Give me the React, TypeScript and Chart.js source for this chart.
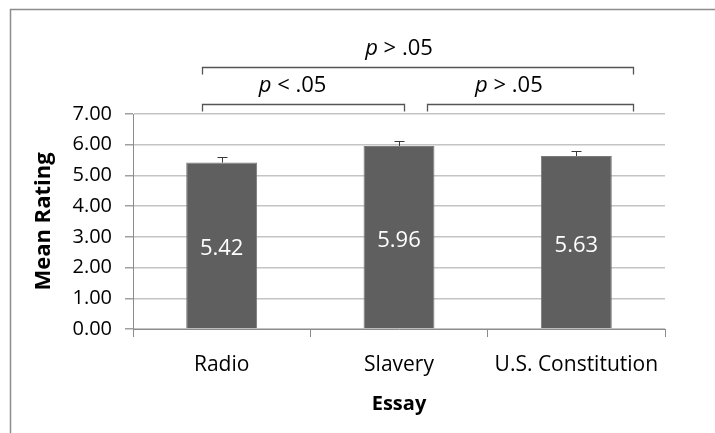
import React, { useEffect, useRef } from "react";
import { Chart, registerables } from "chart.js";

Chart.register(...registerables);

const categories = ["Radio", "Slavery", "U.S. Constitution"];
const means = [5.42, 5.96, 5.63];
const errors = [0.18, 0.17, 0.17];
const yTicks = [0, 1, 2, 3, 4, 5, 6, 7];
// significance brackets: start/end and label position in category-index units
const bracketLabels = ["> .05", "< .05", "> .05"];
const bracketStarts = [-0.11, -0.11, 1.16];
const bracketEnds = [2.32, 1.03, 2.32];
const bracketTextAt = [1.0, 0.4, 1.62];
const bracketLevels = [2, 1, 1];

const FONT = "'Open Sans', sans-serif";

export default function App() {
  const ref = useRef<HTMLCanvasElement | null>(null);

  useEffect(() => {
    document.body.style.margin = "0";
    const canvas = ref.current;
    if (!canvas) return;

    const framePlugin = {
      id: "frame",
      beforeDraw(chart: any) {
        const ctx = chart.ctx;
        ctx.save();
        ctx.strokeStyle = "#8c8c8c";
        ctx.lineWidth = 1.5;
        ctx.beginPath();
        ctx.moveTo(10.5, chart.height + 5);
        ctx.lineTo(10.5, 9.5);
        ctx.lineTo(chart.width + 5, 9.5);
        ctx.stroke();
        ctx.restore();
      },
    };

    const extrasPlugin = {
      id: "extras",
      afterDatasetsDraw(chart: any) {
        const ctx = chart.ctx;
        const x = chart.scales.x;
        const y = chart.scales.y;
        const meta = chart.getDatasetMeta(0);
        ctx.save();
        // error bars
        ctx.strokeStyle = "#3a3a3a";
        ctx.lineWidth = 1;
        meta.data.forEach((bar: any, i: number) => {
          const cx = Math.round(bar.x) + 0.5;
          const top = Math.round(y.getPixelForValue(means[i] + errors[i])) + 0.5;
          const base = y.getPixelForValue(means[i]);
          ctx.beginPath();
          ctx.moveTo(cx, base);
          ctx.lineTo(cx, top);
          ctx.moveTo(cx - 5, top);
          ctx.lineTo(cx + 5, top);
          ctx.stroke();
        });
        // value labels
        ctx.fillStyle = "#ffffff";
        ctx.font = `22px ${FONT}`;
        ctx.textAlign = "center";
        ctx.textBaseline = "middle";
        meta.data.forEach((bar: any, i: number) => {
          ctx.fillText(means[i].toFixed(2), bar.x, y.getPixelForValue(means[i] / 2) + 3);
        });
        // significance brackets
        ctx.strokeStyle = "#555555";
        ctx.lineWidth = 1.3;
        ctx.fillStyle = "#000000";
        bracketLabels.forEach((label, k) => {
          const level = bracketLevels[k] === 2 ? 67.5 : 104.5;
          const x1 = Math.round(x.getPixelForValue(bracketStarts[k])) + 0.5;
          const x2 = Math.round(x.getPixelForValue(bracketEnds[k])) + 0.5;
          ctx.beginPath();
          ctx.moveTo(x1, level + 7);
          ctx.lineTo(x1, level);
          ctx.lineTo(x2, level);
          ctx.lineTo(x2, level + 7);
          ctx.stroke();
          const mid = x.getPixelForValue(bracketTextAt[k]);
          const ty = level - 19;
          ctx.textBaseline = "middle";
          ctx.font = `italic 22px ${FONT}`;
          const pW = ctx.measureText("p ").width;
          ctx.font = `22px ${FONT}`;
          const rW = ctx.measureText(label).width;
          const start = mid - (pW + rW) / 2;
          ctx.textAlign = "left";
          ctx.font = `italic 22px ${FONT}`;
          ctx.fillText("p ", start, ty);
          ctx.font = `22px ${FONT}`;
          ctx.fillText(label, start + pW, ty);
        });
        ctx.restore();
      },
    };

    const chart = new Chart(canvas, {
      type: "bar",
      data: {
        labels: categories,
        datasets: [
          {
            data: means,
            backgroundColor: "#5f5f5f",
            borderColor: "#7a7a7a",
            borderWidth: 1,
            barPercentage: 0.4,
            categoryPercentage: 1,
          },
        ],
      },
      options: {
        animation: false,
        responsive: false,
        maintainAspectRatio: false,
        layout: { padding: { left: 0, right: 50, top: 114, bottom: 0 } },
        plugins: {
          legend: { display: false },
          tooltip: { enabled: false },
        },
        scales: {
          x: {
            grid: {
              display: true,
              drawOnChartArea: false,
              drawTicks: true,
              tickLength: 8,
              color: "#8c8c8c",
              offset: true,
            },
            border: { color: "#8c8c8c" },
            ticks: {
              color: "#000000",
              font: { family: FONT, size: 21 },
              padding: 15,
            },
            title: {
              display: true,
              text: "Essay",
              color: "#000000",
              font: { family: FONT, size: 20, weight: "bold" },
              padding: { top: 0, bottom: 17 },
            },
            afterFit(scale: any) {
              scale.height = 104;
            },
          },
          y: {
            min: 0,
            max: 7,
            afterBuildTicks(scale: any) {
              scale.ticks = yTicks.map((v) => ({ value: v }));
            },
            grid: {
              color: "#c4c4c4",
              lineWidth: 1.5,
              tickLength: 8,
              tickColor: "#a0a0a0",
            },
            border: { color: "#8c8c8c" },
            ticks: {
              color: "#000000",
              font: { family: FONT, size: 20 },
              padding: 13,
              callback: (v: any) => Number(v).toFixed(2),
            },
            title: {
              display: true,
              text: "Mean Rating",
              color: "#000000",
              font: { family: FONT, size: 22, weight: "bold" },
              padding: { top: 31, bottom: 0 },
            },
            afterFit(scale: any) {
              scale.width = 133;
            },
          },
        },
      },
      plugins: [framePlugin, extrasPlugin],
    });
    return () => chart.destroy();
  }, []);

  return <canvas ref={ref} width={715} height={433} style={{ display: "block" }} />;
}
